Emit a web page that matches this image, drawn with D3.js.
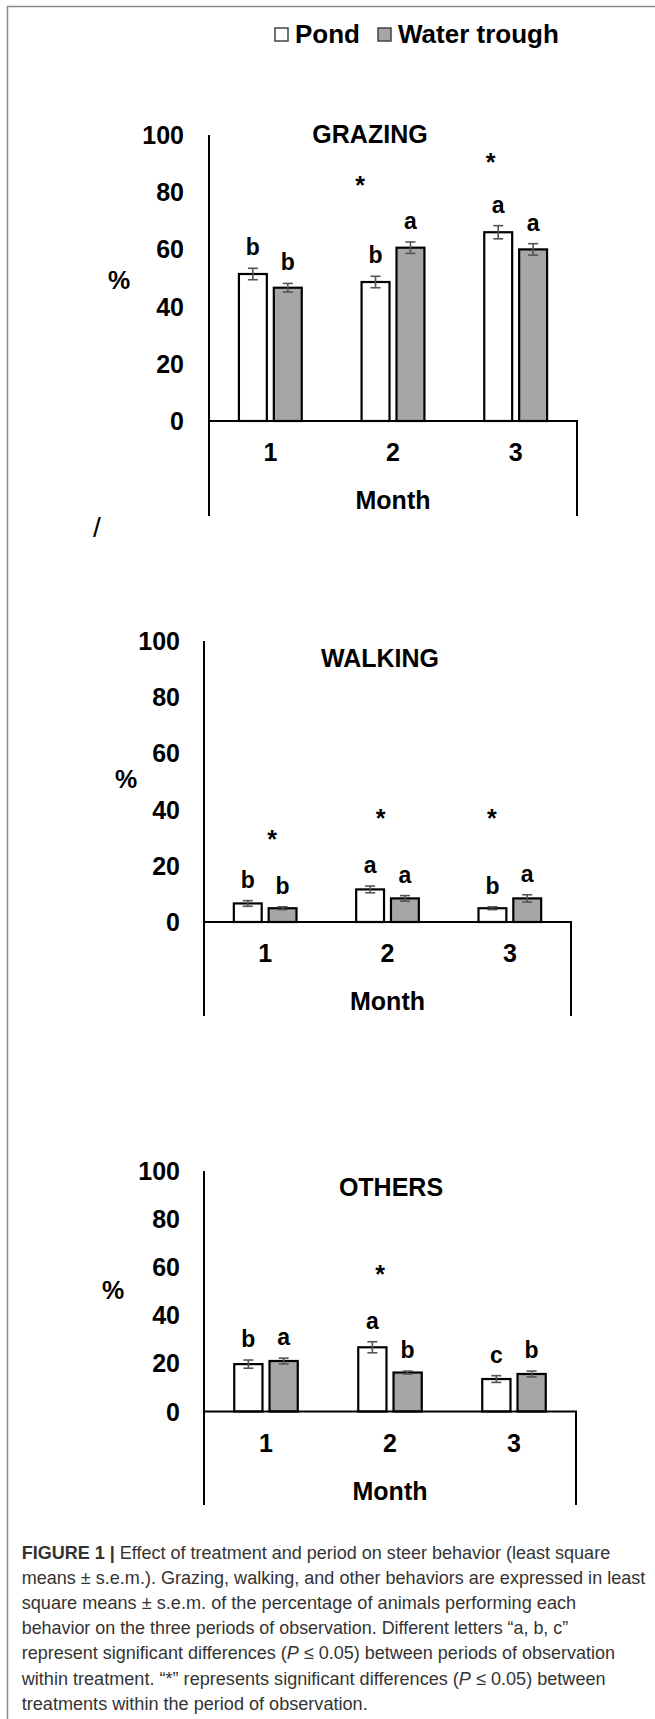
<!DOCTYPE html>
<html>
<head>
<meta charset="utf-8">
<script src="https://cdn.jsdelivr.net/npm/d3@7"></script>
<style>
  body { margin: 0; background: #fff; }
  svg { display: block; }
  text { font-family: "Liberation Sans", Arial, sans-serif; }
</style>
</head>
<body>
<script>
// data
var months = ["1", "2", "3"];
var series = ["Pond", "Water trough"];
var yTicks = [0, 20, 40, 60, 80, 100];

var grazingPond = [51.4, 48.6, 66.0];
var grazingPondErr = [2.0, 2.0, 2.3];
var grazingWater = [46.6, 60.6, 60.0];
var grazingWaterErr = [1.5, 2.0, 2.0];
var grazingPondLetters = ["b", "b", "a"];
var grazingWaterLetters = ["b", "a", "a"];
var grazingStars = [null, 84.3, 92.3];

var walkingPond = [6.6, 11.6, 4.9];
var walkingPondErr = [1.0, 1.2, 0.5];
var walkingWater = [4.9, 8.4, 8.4];
var walkingWaterErr = [0.5, 1.0, 1.3];
var walkingPondLetters = ["b", "a", "b"];
var walkingWaterLetters = ["b", "a", "a"];
var walkingStars = [31.3, 38.8, 38.8];

var othersPond = [19.7, 26.7, 13.5];
var othersPondErr = [1.7, 2.3, 1.4];
var othersWater = [21.0, 16.2, 15.6];
var othersWaterErr = [1.2, 0.6, 1.2];
var othersPondLetters = ["b", "a", "c"];
var othersWaterLetters = ["a", "b", "b"];
var othersStars = [null, 59.4, null];

var W = 655, H = 1719;
var svg = d3.select("body").append("svg")
    .attr("width", W)
    .attr("height", H);

// frame round the figure (cropped on right and bottom)
svg.append("path")
    .attr("d", "M7.5," + H + "V6.5H" + W)
    .attr("fill", "none")
    .attr("stroke", "#8a8a8a")
    .attr("stroke-width", 1.5);

var fills = {"Pond": "#ffffff", "Water trough": "#a6a6a6"};

// legend
var legend = svg.append("g");
var legX = [275, 378];
series.forEach(function(s, i){
    legend.append("rect")
        .attr("x", legX[i]).attr("y", 28)
        .attr("width", 13).attr("height", 13)
        .attr("fill", fills[s])
        .attr("stroke", "#444").attr("stroke-width", 1.5);
    legend.append("text")
        .attr("x", legX[i] + 20).attr("y", 43)
        .attr("font-size", 26).attr("font-weight", "bold")
        .text(s);
});

/*
  one panel: layout object l has the axis box and title spots,
  d holds the values for that behavior
*/
var drawPanel = function(l, d){
    var g = svg.append("g");

    var x0 = d3.scaleBand().domain(months).range([l.left, l.right]);
    var x1 = d3.scaleBand().domain(series)
        .range([0, x0.bandwidth()])
        .paddingInner(0.2).paddingOuter(0.857);
    var y = d3.scaleLinear().domain([0, 100]).range([l.y0, l.y100]);

    var rows = [];
    months.forEach(function(m, i){
        rows.push({m: m, s: "Pond", v: d.pond[i], e: d.pondErr[i], t: d.pondLetters[i]});
        rows.push({m: m, s: "Water trough", v: d.water[i], e: d.waterErr[i], t: d.waterLetters[i]});
    });

    // y tick labels
    g.selectAll(".ytick").data(yTicks).enter().append("text")
        .attr("x", l.tickRight)
        .attr("y", function(t){ return y(t) + 9; })
        .attr("text-anchor", "end")
        .attr("font-size", 25).attr("font-weight", "bold")
        .text(function(t){ return t; });

    g.append("text")
        .attr("x", l.pctX).attr("y", l.pctY + 9)
        .attr("text-anchor", "middle")
        .attr("font-size", 25).attr("font-weight", "bold")
        .text("%");

    g.append("text")
        .attr("x", l.titleX).attr("y", l.titleY)
        .attr("text-anchor", "middle")
        .attr("font-size", 25).attr("font-weight", "bold")
        .text(d.title);

    // bars
    g.selectAll(".bar").data(rows).enter().append("rect")
        .attr("x", function(r){ return x0(r.m) + x1(r.s); })
        .attr("y", function(r){ return y(r.v); })
        .attr("width", x1.bandwidth())
        .attr("height", function(r){ return y(0) - y(r.v); })
        .attr("fill", function(r){ return fills[r.s]; })
        .attr("stroke", "#000").attr("stroke-width", 2.2);

    // error bars
    var eb = g.selectAll(".err").data(rows).enter().append("g")
        .attr("stroke", "#555").attr("stroke-width", 1.6);
    var cx = function(r){ return x0(r.m) + x1(r.s) + x1.bandwidth() / 2; };
    eb.append("line")
        .attr("x1", cx).attr("x2", cx)
        .attr("y1", function(r){ return y(r.v + r.e); })
        .attr("y2", function(r){ return y(r.v - r.e); });
    eb.append("line")
        .attr("x1", function(r){ return cx(r) - 5; })
        .attr("x2", function(r){ return cx(r) + 5; })
        .attr("y1", function(r){ return y(r.v + r.e); })
        .attr("y2", function(r){ return y(r.v + r.e); });
    eb.append("line")
        .attr("x1", function(r){ return cx(r) - 5; })
        .attr("x2", function(r){ return cx(r) + 5; })
        .attr("y1", function(r){ return y(r.v - r.e); })
        .attr("y2", function(r){ return y(r.v - r.e); });

    // letters
    g.selectAll(".let").data(rows).enter().append("text")
        .attr("x", cx)
        .attr("y", function(r){ return y(r.v + r.e) - 13; })
        .attr("text-anchor", "middle")
        .attr("font-size", 23).attr("font-weight", "bold")
        .text(function(r){ return r.t; });

    // stars
    months.forEach(function(m, i){
        if (d.stars[i] === null) return;
        g.append("text")
            .attr("x", x0(m) + x0.bandwidth() / 2 + l.starDx[i])
            .attr("y", y(d.stars[i]) + 14)
            .attr("text-anchor", "middle")
            .attr("font-size", 25).attr("font-weight", "bold")
            .text("*");
    });

    // axis box
    g.append("path")
        .attr("d", "M" + l.left + "," + l.y100 + "V" + l.bottom +
              "M" + l.left + "," + l.y0 + "H" + l.right + "V" + l.bottom)
        .attr("fill", "none")
        .attr("stroke", "#000").attr("stroke-width", 2);

    g.selectAll(".xtick").data(months).enter().append("text")
        .attr("x", function(m){ return x0(m) + x0.bandwidth() / 2; })
        .attr("y", l.y0 + 40)
        .attr("text-anchor", "middle")
        .attr("font-size", 25).attr("font-weight", "bold")
        .text(function(m){ return m; });

    g.append("text")
        .attr("x", (l.left + l.right) / 2).attr("y", l.y0 + 88)
        .attr("text-anchor", "middle")
        .attr("font-size", 25).attr("font-weight", "bold")
        .text("Month");
};

drawPanel(
    {left: 209, right: 577, y0: 421, y100: 135, bottom: 516, tickRight: 184,
     titleX: 370, titleY: 143, pctX: 119, pctY: 280, starDx: [0, -33, -25]},
    {title: "GRAZING", pond: grazingPond, pondErr: grazingPondErr,
     water: grazingWater, waterErr: grazingWaterErr,
     pondLetters: grazingPondLetters, waterLetters: grazingWaterLetters,
     stars: grazingStars});

drawPanel(
    {left: 204, right: 571, y0: 922, y100: 641, bottom: 1016, tickRight: 180,
     titleX: 380, titleY: 667, pctX: 126, pctY: 779, starDx: [7, -7, -18]},
    {title: "WALKING", pond: walkingPond, pondErr: walkingPondErr,
     water: walkingWater, waterErr: walkingWaterErr,
     pondLetters: walkingPondLetters, waterLetters: walkingWaterLetters,
     stars: walkingStars});

drawPanel(
    {left: 204, right: 576, y0: 1411.5, y100: 1171, bottom: 1505, tickRight: 180,
     titleX: 391, titleY: 1196, pctX: 113, pctY: 1290, starDx: [0, -10, 0]},
    {title: "OTHERS", pond: othersPond, pondErr: othersPondErr,
     water: othersWater, waterErr: othersWaterErr,
     pondLetters: othersPondLetters, waterLetters: othersWaterLetters,
     stars: othersStars});

// stray slash between the first two panels
svg.append("text")
    .attr("x", 97).attr("y", 537)
    .attr("text-anchor", "middle")
    .attr("font-size", 28)
    .text("/");

// caption, each line squeezed sideways to the width it has in the figure
var caption = [
    [{t: "FIGURE 1 | ", b: 1}, {t: "Effect of treatment and period on steer behavior (least square"}],
    [{t: "means \u00b1 s.e.m.). Grazing, walking, and other behaviors are expressed in least"}],
    [{t: "square means \u00b1 s.e.m. of the percentage of animals performing each"}],
    [{t: "behavior on the three periods of observation. Different letters \u201ca, b, c\u201d"}],
    [{t: "represent significant differences ("}, {t: "P", i: 1}, {t: " \u2264 0.05) between periods of observation"}],
    [{t: "within treatment. \u201c*\u201d represents significant differences ("}, {t: "P", i: 1}, {t: " \u2264 0.05) between"}],
    [{t: "treatments within the period of observation."}]
];
var capLen = [589, 624, 555, 547, 594, 584, 346];
var capX = 21.7;

caption.forEach(function(parts, i){
    var yy = 1558.5 + i * 25.2;
    var g = svg.append("g");
    var t = g.append("text")
        .attr("x", 0)
        .attr("y", 0)
        .attr("font-size", 18.5)
        .attr("fill", "#333");
    parts.forEach(function(p){
        t.append("tspan")
            .attr("font-weight", p.b ? "bold" : null)
            .attr("font-style", p.i ? "italic" : null)
            .text(p.t);
    });
    var natural = t.node().getComputedTextLength();
    var k = capLen[i] / natural;
    g.attr("transform", "translate(" + capX + "," + yy + ") scale(" + k + ",1)");
});
</script>
</body>
</html>
